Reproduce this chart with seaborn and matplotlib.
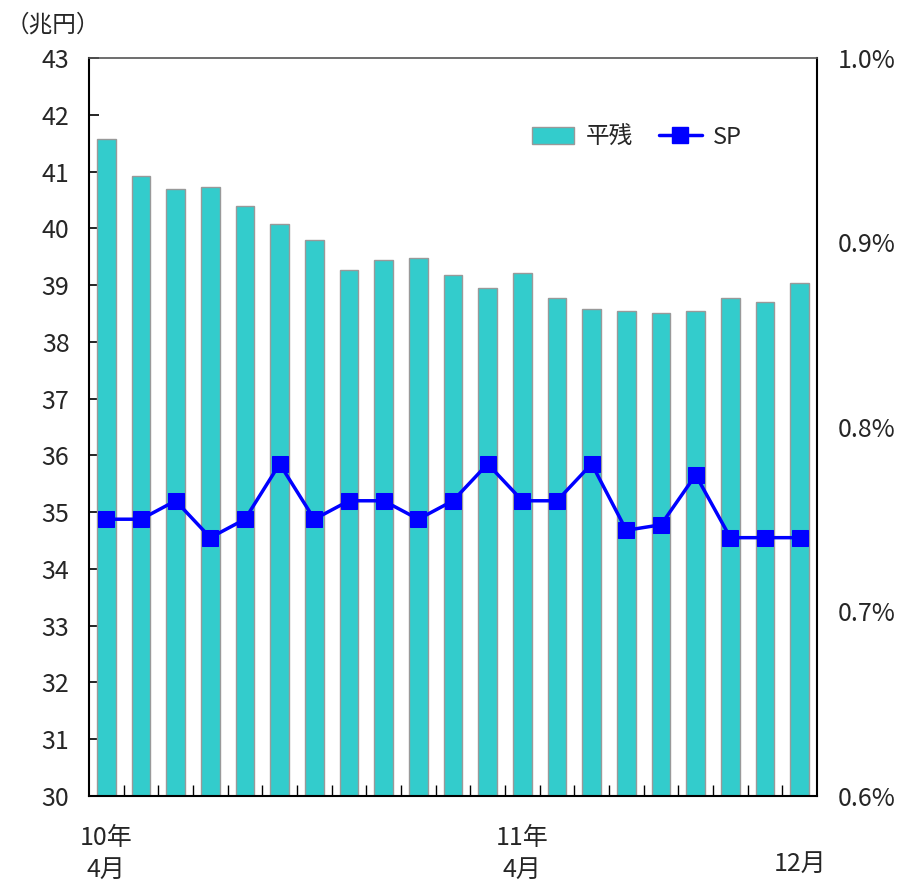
import numpy as np
import pandas as pd
import matplotlib
matplotlib.use('Agg')
import matplotlib.pyplot as plt
import matplotlib.transforms as mtransforms
from matplotlib.patches import Patch
from matplotlib.lines import Line2D
import seaborn as sns

# monthly data, Apr 2010 - Dec 2011
months = ['10/04', '10/05', '10/06', '10/07', '10/08', '10/09', '10/10', '10/11', '10/12',
          '11/01', '11/02', '11/03', '11/04', '11/05', '11/06', '11/07', '11/08', '11/09',
          '11/10', '11/11', '11/12']
balance = [41.57, 40.92, 40.70, 40.72, 40.39, 40.07, 39.79, 39.27, 39.44, 39.47, 39.18,
           38.95, 39.22, 38.78, 38.58, 38.55, 38.51, 38.55, 38.78, 38.70, 39.04]
sp = [0.75, 0.75, 0.76, 0.74, 0.75, 0.78, 0.75, 0.76, 0.76, 0.75, 0.76,
      0.78, 0.76, 0.76, 0.78, 0.744, 0.747, 0.774, 0.74, 0.74, 0.74]

xlabel_pos = [0, 12, 20]
xlabel_text = ['10年\n4月', '11年\n4月', '12月']
left_ticks = list(range(30, 44))
right_ticks = [0.6, 0.7, 0.8, 0.9, 1.0]

df = pd.DataFrame({'month': months, 'balance': balance, 'sp': sp})

sns.set_theme(style='white')
plt.rcParams['font.family'] = ['Noto Sans CJK JP', 'DejaVu Sans']

bar_color = '#33CCCC'
line_color = '#0000FF'

fig = plt.figure(figsize=(9.06, 8.85), dpi=100)
ax = fig.add_axes([0.0982, 0.1006, 0.8036, 0.8339])

sns.barplot(data=df, x='month', y='balance', color=bar_color, saturation=1,
            width=0.54, edgecolor='#999999', linewidth=1, ax=ax)
ax.set_xlim(-0.5, len(months) - 0.5)
ax.set_ylim(30, 43)
ax.set_yticks(left_ticks)
ax.set_yticklabels([str(t) for t in left_ticks], fontsize=18)
ax.tick_params(axis='y', direction='in', length=7, width=1.2, color='black', pad=14, left=True)
ax.set_xticks(np.arange(0.5, len(months) - 1, 1.0))
ax.set_xticklabels([])
ax.tick_params(axis='x', direction='in', length=8, width=1, color='black', bottom=True)
ax.set_xlabel('')
ax.set_ylabel('')

for s in ['left', 'bottom', 'right']:
    ax.spines[s].set_color('black')
    ax.spines[s].set_linewidth(1.5)
ax.spines['top'].set_color('#555555')
ax.spines['top'].set_linewidth(1.2)

ax2 = ax.twinx()
sns.lineplot(data=df, x='month', y='sp', color=line_color, linewidth=2.5,
             marker='s', markersize=11, markeredgecolor=line_color, ax=ax2)
ax2.set_ylim(0.6, 1.0)
ax2.set_yticks(right_ticks)
ax2.set_yticklabels(['%.1f%%' % t for t in right_ticks], fontsize=18)
ax2.tick_params(axis='y', length=0, pad=15)
ax2.set_ylabel('')
ax2.set_xlabel('')
ax2.set_xlim(-0.5, len(months) - 0.5)
for s in ax2.spines.values():
    s.set_visible(False)

# x-axis labels
trans = mtransforms.blended_transform_factory(ax.transData, ax.transAxes)
for pos, txt in zip(xlabel_pos, xlabel_text):
    y = -0.078 if '\n' in txt else -0.092
    ax.text(pos, y, txt, transform=trans, ha='center', va='center',
            fontsize=18, linespacing=1.3)

fig.text(0.006, 0.972, '（兆円）', fontsize=17, ha='left', va='center')

handles = [Patch(facecolor=bar_color, edgecolor='#999999', linewidth=1),
           Line2D([0], [0], color=line_color, linewidth=2.5, marker='s',
                  markersize=11)]
fig.legend(handles, ['平残', 'SP'], loc='center', bbox_to_anchor=(0.703, 0.845),
           ncol=2, frameon=False, fontsize=17, handlelength=1.8,
           columnspacing=1.1, handletextpad=0.5)

fig.savefig('out.png', dpi=100)
